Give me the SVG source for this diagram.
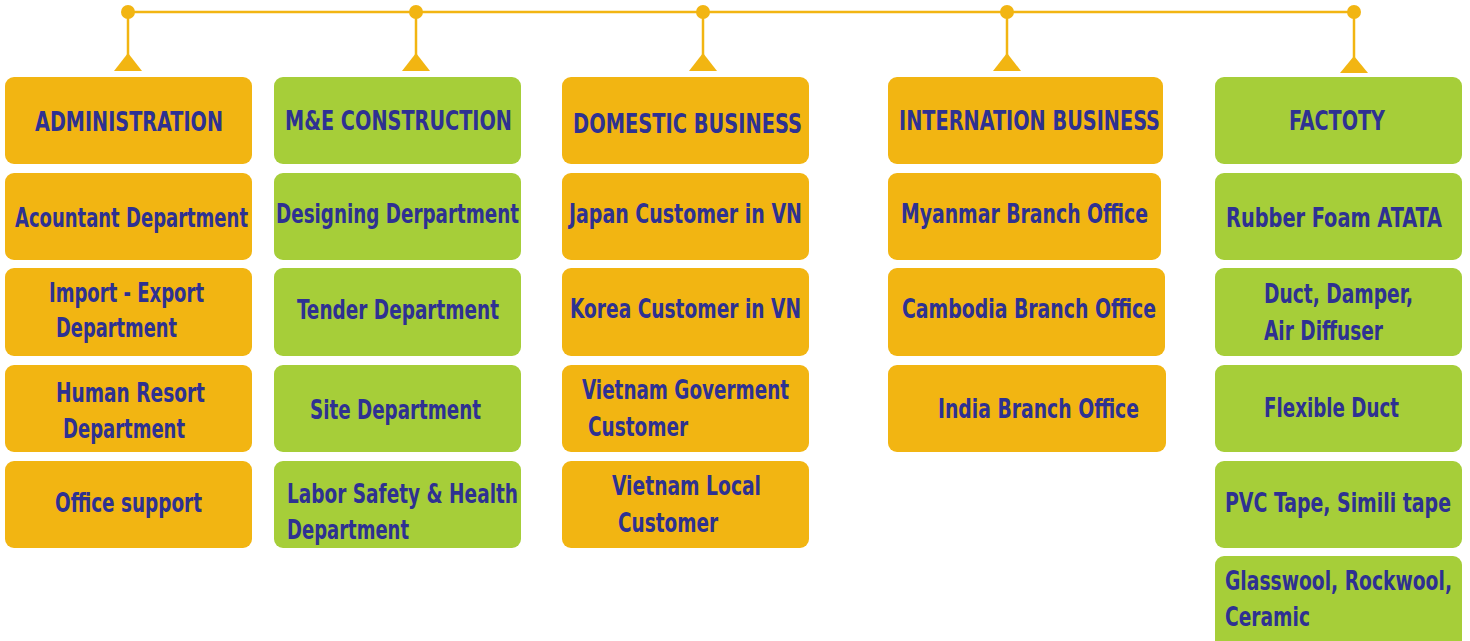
<svg xmlns="http://www.w3.org/2000/svg" width="1470" height="641" viewBox="0 0 1470 641">
<style>
.o{fill:#F2B512}
.g{fill:#A6CE39}
.t{font-family:"Liberation Sans Narrow","DejaVu Sans Condensed","Liberation Sans",sans-serif;font-weight:bold;font-size:26px;fill:#2E3192}
.ln{stroke:#F2B512;stroke-width:2.5;fill:none}
.dot{fill:#F2B512}
</style>
<rect width="1470" height="641" fill="#ffffff"/>
<g id="connectors">
<line class="ln" x1="128" y1="12" x2="1354" y2="12"/>
<circle class="dot" cx="128" cy="12" r="7"/>
<circle class="dot" cx="416" cy="12" r="7"/>
<circle class="dot" cx="703" cy="12" r="7"/>
<circle class="dot" cx="1007" cy="12" r="7"/>
<circle class="dot" cx="1354" cy="12" r="7"/>
<line class="ln" x1="128" y1="12" x2="128" y2="56"/>
<line class="ln" x1="416" y1="12" x2="416" y2="56"/>
<line class="ln" x1="703" y1="12" x2="703" y2="56"/>
<line class="ln" x1="1007" y1="12" x2="1007" y2="56"/>
<line class="ln" x1="1354" y1="12" x2="1354" y2="58"/>
<polygon class="dot" points="128,53 114,71 142,71"/>
<polygon class="dot" points="416,53 402,71 430,71"/>
<polygon class="dot" points="703,53 689,71 717,71"/>
<polygon class="dot" points="1007,53 993,71 1021,71"/>
<polygon class="dot" points="1354,56 1340,73 1368,73"/>
</g>
<!-- Column 1 -->
<g id="administration"><rect class="o" x="5" y="77" width="247" height="87" rx="9"/><text class="t" x="35" y="131" textLength="188" lengthAdjust="spacingAndGlyphs">ADMINISTRATION</text></g>
<g id="acountant"><rect class="o" x="5" y="173" width="247" height="87" rx="9"/><text class="t" x="15" y="227" textLength="233" lengthAdjust="spacingAndGlyphs">Acountant Department</text></g>
<g id="import-export"><rect class="o" x="5" y="268" width="247" height="88" rx="9"/><text class="t" x="49" y="302" textLength="155" lengthAdjust="spacingAndGlyphs">Import - Export</text><text class="t" x="56" y="337" textLength="121" lengthAdjust="spacingAndGlyphs">Department</text></g>
<g id="human-resort"><rect class="o" x="5" y="365" width="247" height="87" rx="9"/><text class="t" x="56" y="402" textLength="149" lengthAdjust="spacingAndGlyphs">Human Resort</text><text class="t" x="63" y="438" textLength="122" lengthAdjust="spacingAndGlyphs">Department</text></g>
<g id="office-support"><rect class="o" x="5" y="461" width="247" height="87" rx="9"/><text class="t" x="55" y="512" textLength="147" lengthAdjust="spacingAndGlyphs">Office support</text></g>
<!-- Column 2 -->
<g id="me-construction"><rect class="g" x="274" y="77" width="247" height="87" rx="9"/><text class="t" x="285" y="130" textLength="227" lengthAdjust="spacingAndGlyphs">M&amp;E CONSTRUCTION</text></g>
<g id="designing"><rect class="g" x="274" y="173" width="247" height="87" rx="9"/><text class="t" x="276" y="223" textLength="243" lengthAdjust="spacingAndGlyphs">Designing Derpartment</text></g>
<g id="tender"><rect class="g" x="274" y="268" width="247" height="88" rx="9"/><text class="t" x="297" y="319" textLength="202" lengthAdjust="spacingAndGlyphs">Tender Department</text></g>
<g id="site"><rect class="g" x="274" y="365" width="247" height="87" rx="9"/><text class="t" x="310" y="419" textLength="171" lengthAdjust="spacingAndGlyphs">Site Department</text></g>
<g id="labor-safety"><rect class="g" x="274" y="461" width="247" height="87" rx="9"/><text class="t" x="287" y="503" textLength="231" lengthAdjust="spacingAndGlyphs">Labor Safety &amp; Health</text><text class="t" x="287" y="539" textLength="122" lengthAdjust="spacingAndGlyphs">Department</text></g>
<!-- Column 3 -->
<g id="domestic-business"><rect class="o" x="562" y="77" width="247" height="87" rx="9"/><text class="t" x="573" y="133" textLength="229" lengthAdjust="spacingAndGlyphs">DOMESTIC BUSINESS</text></g>
<g id="japan-customer"><rect class="o" x="562" y="173" width="247" height="87" rx="9"/><text class="t" x="569" y="223" textLength="233" lengthAdjust="spacingAndGlyphs">Japan Customer in VN</text></g>
<g id="korea-customer"><rect class="o" x="562" y="268" width="247" height="88" rx="9"/><text class="t" x="570" y="318" textLength="231" lengthAdjust="spacingAndGlyphs">Korea Customer in VN</text></g>
<g id="vietnam-government"><rect class="o" x="562" y="365" width="247" height="87" rx="9"/><text class="t" x="582" y="399" textLength="207" lengthAdjust="spacingAndGlyphs">Vietnam Goverment</text><text class="t" x="588" y="436" textLength="100" lengthAdjust="spacingAndGlyphs">Customer</text></g>
<g id="vietnam-local"><rect class="o" x="562" y="461" width="247" height="87" rx="9"/><text class="t" x="612" y="495" textLength="149" lengthAdjust="spacingAndGlyphs">Vietnam Local</text><text class="t" x="618" y="532" textLength="100" lengthAdjust="spacingAndGlyphs">Customer</text></g>
<!-- Column 4 -->
<g id="internation-business"><rect class="o" x="888" y="77" width="275" height="87" rx="9"/><text class="t" x="899" y="130" textLength="261" lengthAdjust="spacingAndGlyphs">INTERNATION BUSINESS</text></g>
<g id="myanmar"><rect class="o" x="888" y="173" width="273" height="87" rx="9"/><text class="t" x="901" y="223" textLength="247" lengthAdjust="spacingAndGlyphs">Myanmar Branch Office</text></g>
<g id="cambodia"><rect class="o" x="888" y="268" width="277" height="88" rx="9"/><text class="t" x="902" y="318" textLength="254" lengthAdjust="spacingAndGlyphs">Cambodia Branch Office</text></g>
<g id="india"><rect class="o" x="888" y="365" width="278" height="87" rx="9"/><text class="t" x="938" y="418" textLength="201" lengthAdjust="spacingAndGlyphs">India Branch Office</text></g>
<!-- Column 5 -->
<g id="factoty"><rect class="g" x="1215" y="77" width="247" height="87" rx="9"/><text class="t" x="1289" y="130" textLength="96" lengthAdjust="spacingAndGlyphs">FACTOTY</text></g>
<g id="rubber-foam"><rect class="g" x="1215" y="173" width="247" height="87" rx="9"/><text class="t" x="1226" y="227" textLength="216" lengthAdjust="spacingAndGlyphs">Rubber Foam ATATA</text></g>
<g id="duct-damper"><rect class="g" x="1215" y="268" width="247" height="88" rx="9"/><text class="t" x="1264" y="303" textLength="149" lengthAdjust="spacingAndGlyphs">Duct, Damper,</text><text class="t" x="1264" y="340" textLength="119" lengthAdjust="spacingAndGlyphs">Air Diffuser</text></g>
<g id="flexible-duct"><rect class="g" x="1215" y="365" width="247" height="87" rx="9"/><text class="t" x="1264" y="417" textLength="135" lengthAdjust="spacingAndGlyphs">Flexible Duct</text></g>
<g id="pvc-tape"><rect class="g" x="1215" y="461" width="247" height="87" rx="9"/><text class="t" x="1225" y="512" textLength="226" lengthAdjust="spacingAndGlyphs">PVC Tape, Simili tape</text></g>
<g id="glasswool"><rect class="g" x="1215" y="556" width="247" height="95" rx="9"/><text class="t" x="1225" y="590" textLength="227" lengthAdjust="spacingAndGlyphs">Glasswool, Rockwool,</text><text class="t" x="1225" y="626" textLength="85" lengthAdjust="spacingAndGlyphs">Ceramic</text></g>
</svg>
